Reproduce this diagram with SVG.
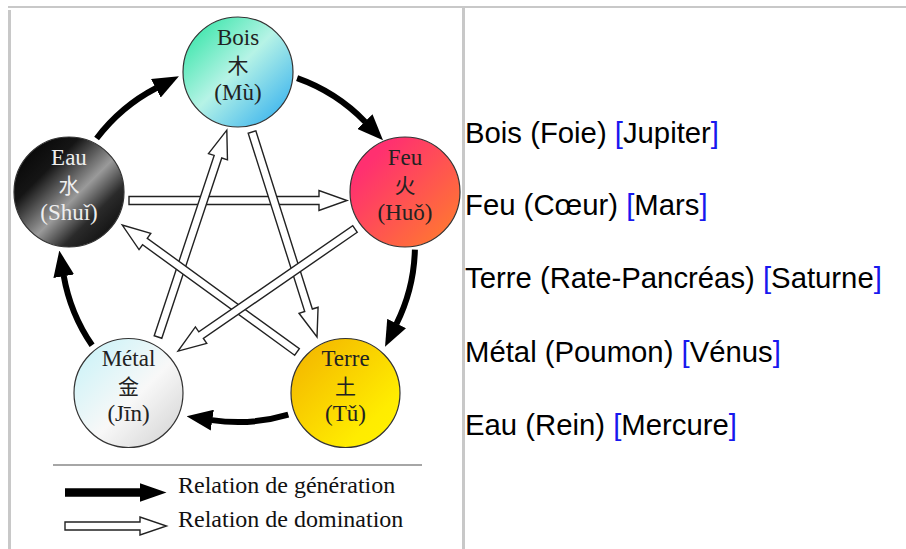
<svg xmlns="http://www.w3.org/2000/svg" width="906" height="549" viewBox="0 0 906 549">
<defs>
<style>
.frame{fill:#c8c8c8}
.node circle{stroke:#333;stroke-width:1.2}
.nt{font-family:"Liberation Serif","Times New Roman",serif;font-size:23px;fill:#222;text-anchor:middle}
.cjk{font-family:"Noto Sans CJK SC","Noto Sans CJK JP",sans-serif;font-size:21px;fill:#222;text-anchor:middle}
.light{fill:#eee}
.gen{fill:none;stroke:#000;stroke-width:6}
.dom{fill:#fff;stroke:#222;stroke-width:1.4;stroke-linejoin:miter}
.leg{font-family:"Liberation Serif","Times New Roman",serif;font-size:24px;fill:#111}
.rt{font-family:"Liberation Sans",Arial,sans-serif;font-size:29.3px;fill:#000}
.br{fill:#1818ee}
</style>
<linearGradient id="gBois" x1="0" y1="0" x2="1" y2="1">
<stop offset="0.1" stop-color="#3fe6ac"/>
<stop offset="0.48" stop-color="#b6f3e6"/>
<stop offset="0.9" stop-color="#40b6ee"/>
</linearGradient>
<linearGradient id="gFeu" x1="0" y1="0" x2="1" y2="1">
<stop offset="0.2" stop-color="#ff3070"/>
<stop offset="0.85" stop-color="#ff7236"/>
</linearGradient>
<linearGradient id="gEau" x1="0" y1="0" x2="1" y2="1">
<stop offset="0" stop-color="#000"/>
<stop offset="0.3" stop-color="#151515"/>
<stop offset="0.55" stop-color="#9a9a9a"/>
<stop offset="0.72" stop-color="#2a2a2a"/>
<stop offset="1" stop-color="#000"/>
</linearGradient>
<linearGradient id="gMetal" x1="0" y1="0" x2="1" y2="1">
<stop offset="0.1" stop-color="#cdf3f8"/>
<stop offset="0.55" stop-color="#f8f8f8"/>
<stop offset="0.95" stop-color="#d4d4d4"/>
</linearGradient>
<linearGradient id="gTerre" x1="0" y1="0" x2="1" y2="1">
<stop offset="0.1" stop-color="#f4b800"/>
<stop offset="0.75" stop-color="#ffec00"/>
<stop offset="1" stop-color="#fff200"/>
</linearGradient>
<marker id="ah" markerUnits="userSpaceOnUse" markerWidth="26" markerHeight="21" viewBox="0 0 26 21" refX="0.5" refY="10.5" orient="auto">
<path d="M0,0 L26,10.5 L0,21 Z" fill="#000"/>
</marker>
</defs>

<rect class="frame" x="8" y="6" width="898" height="2"/>
<rect class="frame" x="8" y="10" width="3" height="539"/>
<rect class="frame" x="462" y="7" width="3" height="542"/>

<g id="connectors">
<path class="gen" d="M96.6,138.5 A177,177 0 0 1 156.3,88" marker-end="url(#ah)"/>
<path class="gen" d="M297.1,78.2 A177,177 0 0 1 365.3,122" marker-end="url(#ah)"/>
<path class="gen" d="M414.9,249.6 A177,177 0 0 1 396.4,324" marker-end="url(#ah)"/>
<path class="gen" d="M288.3,414.7 A177,177 0 0 1 211.8,420.1" marker-end="url(#ah)"/>
<path class="gen" d="M92.1,345.3 A177,177 0 0 1 63.7,275.7" marker-end="url(#ah)"/>

<polygon class="dom" transform="translate(129,200.5)" points="0,-4 190,-4 190,-10 218,0 190,10 190,4 0,4"/>
<polygon class="dom" transform="translate(158,337) rotate(-71.6)" points="0,-4 190,-4 190,-10 218,0 190,10 190,4 0,4"/>
<polygon class="dom" transform="translate(252,132) rotate(72.4)" points="0,-4 187,-4 187,-10 215,0 187,10 187,4 0,4"/>
<polygon class="dom" transform="translate(297,352) rotate(-144)" points="0,-4 188,-4 188,-10 216,0 188,10 188,4 0,4"/>
<polygon class="dom" transform="translate(355,229) rotate(145.4)" points="0,-4 187,-4 187,-10 215,0 187,10 187,4 0,4"/>
</g>

<g id="bois" class="node">
<circle cx="238" cy="72" r="55" fill="url(#gBois)"/>
<text class="nt" x="238" y="45">Bois</text>
<text class="cjk" x="238" y="73">木</text>
<text class="nt" x="238" y="100">(Mù)</text>
</g>
<g id="feu" class="node">
<circle cx="405" cy="192" r="55" fill="url(#gFeu)"/>
<text class="nt" x="405" y="165">Feu</text>
<text class="cjk" x="405" y="193">火</text>
<text class="nt" x="405" y="220">(Huǒ)</text>
</g>
<g id="terre" class="node">
<circle cx="345.5" cy="393" r="54.5" fill="url(#gTerre)"/>
<text class="nt" x="345.5" y="366">Terre</text>
<text class="cjk" x="345.5" y="394">土</text>
<text class="nt" x="345.5" y="421">(Tǔ)</text>
</g>
<g id="metal" class="node">
<circle cx="128.5" cy="393" r="54.5" fill="url(#gMetal)"/>
<text class="nt" x="128.5" y="366">Métal</text>
<text class="cjk" x="128.5" y="394">金</text>
<text class="nt" x="128.5" y="421">(Jīn)</text>
</g>
<g id="eau" class="node">
<circle cx="69" cy="192" r="55" fill="url(#gEau)"/>
<text class="nt light" x="69" y="165">Eau</text>
<text class="cjk light" x="69" y="193">水</text>
<text class="nt light" x="69" y="220">(Shuǐ)</text>
</g>

<g id="legend">
<line x1="53" y1="465" x2="422" y2="465" stroke="#888" stroke-width="1.5"/>
<polygon points="65,488.3 140,488.3 140,483.3 166.5,492.5 140,501.7 140,496.7 65,496.7" fill="#000"/>
<text class="leg" x="178" y="493">Relation de génération</text>
<polygon class="dom" points="65,522 140,522 140,517 166.5,526 140,535 140,530 65,530"/>
<text class="leg" x="178" y="527">Relation de domination</text>
</g>

<g id="list">
<text class="rt" x="465" y="143">Bois (Foie) <tspan class="br">[</tspan>Jupiter<tspan class="br">]</tspan></text>
<text class="rt" x="465" y="215">Feu (Cœur) <tspan class="br">[</tspan>Mars<tspan class="br">]</tspan></text>
<text class="rt" x="465" y="288">Terre (Rate-Pancréas) <tspan class="br">[</tspan>Saturne<tspan class="br">]</tspan></text>
<text class="rt" x="465" y="362">Métal (Poumon) <tspan class="br">[</tspan>Vénus<tspan class="br">]</tspan></text>
<text class="rt" x="465" y="435">Eau (Rein) <tspan class="br">[</tspan>Mercure<tspan class="br">]</tspan></text>
</g>
</svg>
